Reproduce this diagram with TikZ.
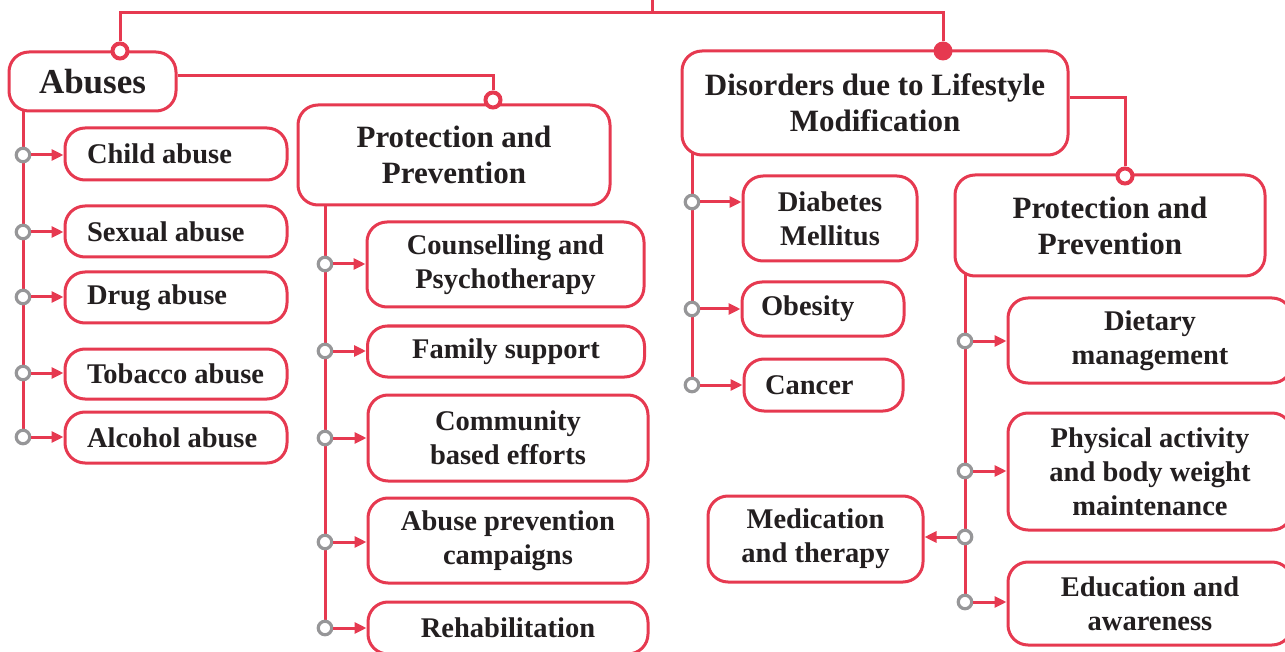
\documentclass[tikz,border=0pt]{standalone}
\usepackage{fontspec}
\setmainfont{Liberation Serif}
\usetikzlibrary{arrows.meta,backgrounds}
\definecolor{myred}{RGB}{230,57,80}
\definecolor{mygray}{RGB}{150,150,152}
\definecolor{ink}{RGB}{35,31,32}
\tikzset{
  box/.style={draw=myred, line width=3pt, rounded corners=20pt, fill=white, text=ink,
    align=center, inner sep=0pt, font=\bfseries\fontsize{28.5}{34}\selectfont},
  headbox/.style={box, font=\bfseries\fontsize{31}{36}\selectfont},
  lbox/.style={box, inner xsep=22pt, minimum height=52pt},
  conn/.style={draw=myred, line width=3pt},
  arr/.style={conn, -{Triangle[length=12pt,width=11pt]}},
  gc/.style={circle, draw=mygray, fill=white, line width=3.2pt, minimum size=13.5pt, inner sep=0pt},
  rc/.style={circle, draw=myred, fill=white, line width=4pt, minimum size=15pt, inner sep=0pt},
  rdot/.style={circle, fill=myred, minimum size=19pt, inner sep=0pt}
}
\newcommand{\lt}[2]{\makebox[#1][l]{#2}}
\begin{document}
\begin{tikzpicture}[x=1pt,y=-1pt]
\useasboundingbox (0,0) rectangle (1285,652);
% ---------- boxes ----------
\node[headbox, font=\bfseries\fontsize{35}{40}\selectfont, minimum width=167pt, minimum height=59pt] (abuses) at (92.5,81.5) {Abuses};
\node[headbox, minimum width=312pt, minimum height=100pt] (lpp) at (454,155) {Protection and\\Prevention};
\node[lbox] (child) at (176,154) {\lt{178pt}{Child abuse}};
\node[lbox, minimum height=51pt] (sexual) at (176,231.5) {\lt{178pt}{Sexual abuse}};
\node[lbox, minimum height=51pt] (drug) at (176,297.5) {\lt{178pt}{Drug abuse}};
\node[lbox, minimum height=50pt] (tobacco) at (176,374) {\lt{178pt}{Tobacco abuse}};
\node[lbox, minimum height=51pt] (alcohol) at (176,437.5) {\lt{178pt}{Alcohol abuse}};
\node[box, minimum width=277pt, minimum height=85pt] (couns) at (505.5,264.5) {Counselling and\\Psychotherapy};
\node[box, minimum width=277pt, minimum height=51pt] (family) at (506,351.5) {Family support};
\node[box, minimum width=280pt, minimum height=86pt] (comm) at (508,438) {Community\\based efforts};
\node[box, minimum width=280pt, minimum height=85pt] (camp) at (508,540.5) {Abuse prevention\\campaigns};
\node[box, minimum width=280pt, minimum height=52pt] (rehab) at (508,628) {Rehabilitation};
\node[headbox, minimum width=386pt, minimum height=104pt] (dis) at (875,103) {Disorders due to Lifestyle\\Modification};
\node[box, minimum width=174pt, minimum height=85pt] (diab) at (830,218.5) {Diabetes\\Mellitus};
\node[box, inner xsep=19pt, minimum height=54pt] (obes) at (823,309) {\lt{124pt}{Obesity}};
\node[box, inner xsep=21pt, minimum height=52pt] (canc) at (823.5,385) {\lt{117pt}{Cancer}};
\node[headbox, minimum width=310pt, minimum height=101pt] (rpp) at (1110,225.5) {Protection and\\Prevention};
\node[box, minimum width=284pt, minimum height=85pt] (diet) at (1150,340.5) {Dietary\\management};
\node[box, minimum width=284pt, minimum height=117pt] (phys) at (1150,471.5) {Physical activity\\and body weight\\maintenance};
\node[box, minimum width=215pt, minimum height=86pt] (med) at (815.5,539) {Medication\\and therapy};
\node[box, minimum width=284pt, minimum height=83pt] (edu) at (1150,603.5) {Education and\\awareness};
% ---------- junction circles ----------
\foreach \n/\y in {a1/155,a2/232,a3/297,a4/373,a5/437} \node[gc] (\n) at (23,\y) {};
\foreach \n/\y in {b1/264,b2/351,b3/438,b4/542,b5/628} \node[gc] (\n) at (325,\y) {};
\foreach \n/\y in {c1/202,c2/309,c3/385} \node[gc] (\n) at (692,\y) {};
\foreach \n/\y in {d1/341,d2/471,d3/537,d4/602} \node[gc] (\n) at (965,\y) {};
\node[rc] (ra) at (120,51) {};
\node[rc] (rb) at (493,100) {};
\node[rdot] (rd) at (943,51) {};
\node[rc] (rr) at (1125,176) {};
% ---------- arrows ----------
\draw[arr] (a1) -- (a1 -| child.west);
\draw[arr] (a2) -- (a2 -| sexual.west);
\draw[arr] (a3) -- (a3 -| drug.west);
\draw[arr] (a4) -- (a4 -| tobacco.west);
\draw[arr] (a5) -- (a5 -| alcohol.west);
\draw[arr] (b1) -- (b1 -| couns.west);
\draw[arr] (b2) -- (b2 -| family.west);
\draw[arr] (b3) -- (b3 -| comm.west);
\draw[arr] (b4) -- (b4 -| camp.west);
\draw[arr] (b5) -- (b5 -| rehab.west);
\draw[arr] (c1) -- (c1 -| diab.west);
\draw[arr] (c2) -- (c2 -| obes.west);
\draw[arr] (c3) -- (c3 -| canc.west);
\draw[arr] (d1) -- (d1 -| diet.west);
\draw[arr] (d2) -- (d2 -| phys.west);
\draw[arr] (d3) -- (d3 -| med.east);
\draw[arr] (d4) -- (d4 -| edu.west);
% ---------- trunk lines ----------
\begin{scope}[on background layer]
\coordinate (bar) at (652,13);
\coordinate (topend) at (652,-3);
\draw[conn] (ra) |- (bar) -| (rd);
\draw[conn] (bar) -- (topend);
\draw[conn] (rb) |- ([yshift=5.5pt]abuses.east);
\draw[conn] (rr) |- ([yshift=5pt]dis.east);
\draw[conn] (abuses.center -| a5) -- (a5);
\draw[conn] (lpp.center -| b5) -- (b5);
\draw[conn] (dis.center -| c3) -- (c3);
\draw[conn] (rpp.center -| d4) -- (d4);
\end{scope}
\end{tikzpicture}
\end{document}
